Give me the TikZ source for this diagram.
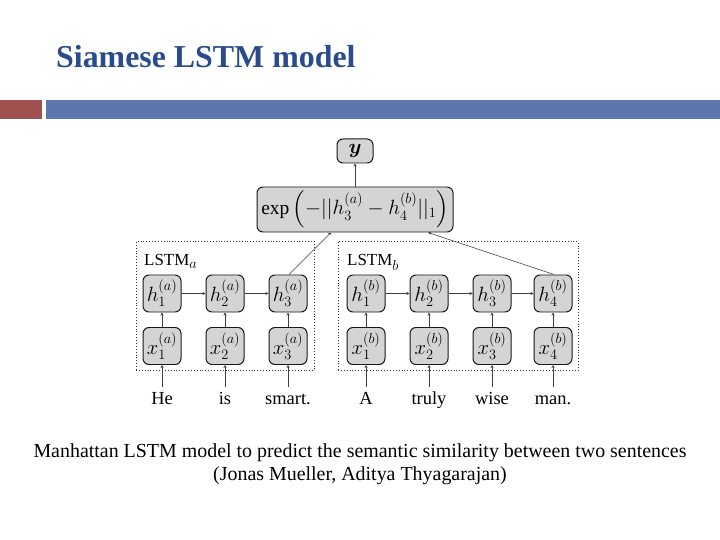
\documentclass[tikz,border=0pt]{standalone}
\usepackage{amsmath}
\usepackage{fontspec}
\setmainfont{Liberation Serif}
\usetikzlibrary{arrows.meta}
\DeclareMathSizes{20}{20}{15.5}{12}
\DeclareMathSizes{19.5}{19.5}{15}{11}
\DeclareMathSizes{17}{17}{14}{10}
\definecolor{titleblue}{HTML}{2B4C8C}
\definecolor{barred}{HTML}{A0504F}
\definecolor{barblue}{HTML}{5E76AE}
\definecolor{boxgray}{HTML}{D4D4D4}
\begin{document}
\begin{tikzpicture}[x=1bp,y=-1bp,
  cell/.style={draw=black!90,fill=boxgray,rounded corners=6bp,minimum width=38bp,minimum height=37bp,inner sep=0pt,line width=1pt,font=\fontsize{20}{20}\selectfont},
  conn/.style={-{Stealth[length=3bp,width=3bp]},draw=black!75,line width=0.5pt},
  group/.style={draw=black!80,dotted,line width=0.9pt},
  word/.style={font=\fontsize{18.5}{18.5}\selectfont,anchor=base},
  grp/.style={font=\fontsize{17}{17}\selectfont,anchor=base west}]
\useasboundingbox (0,0) rectangle (720,540);
\fill[white] (0,0) rectangle (720,540);
\node[anchor=base west,text=titleblue,font=\fontsize{32}{32}\selectfont\bfseries,inner sep=0pt] (title) at (56,68) {Siamese LSTM model};
\fill[barred] (0,100) rectangle (42,119);
\fill[barblue] (46,100) rectangle (720,119);
% groups
\node[group,minimum width=178bp,minimum height=129bp,inner sep=0pt] (ga) at (225,306) {};
\node[group,minimum width=240bp,minimum height=129bp,inner sep=0pt] (gb) at (458,306) {};
\node[grp,inner sep=0pt] (la) at (144,266) {LSTM$_a$};
\node[grp,inner sep=0pt] (lb) at (347,266) {LSTM$_b$};
% top nodes
\node[cell,minimum width=36bp,minimum height=24bp] (y) at (355,151) {$\boldsymbol{y}$};
\node[cell,minimum width=196bp,minimum height=45bp,font=\fontsize{19.5}{19.5}\selectfont] (e) at (355,209.5) {$\exp\left(-||h_3^{(a)}-h_4^{(b)}||_1\right)$};
% a
\foreach \i/\xx in {1/162,2/225,3/288}{
  \node[cell] (ha\i) at (\xx,293.5) {$h_{\i}^{(a)}$};
  \node[cell] (xa\i) at (\xx,346) {$x_{\i}^{(a)}$};
  \draw[conn] (xa\i) -- (ha\i);
}
\foreach \i/\xx in {1/366,2/429,3/492,4/553}{
  \node[cell] (hb\i) at (\xx,293.5) {$h_{\i}^{(b)}$};
  \node[cell] (xb\i) at (\xx,346) {$x_{\i}^{(b)}$};
  \draw[conn] (xb\i) -- (hb\i);
}
\draw[conn] (ha1) -- (ha2); \draw[conn] (ha2) -- (ha3);
\draw[conn] (hb1) -- (hb2); \draw[conn] (hb2) -- (hb3); \draw[conn] (hb3) -- (hb4);
\draw[conn] (e) -- (y);
\coordinate (s1) at ([xshift=1bp]ha3.north);
\coordinate (t1) at (331,232.5);
\coordinate (t2) at (428,232.5);
\draw[conn] (s1) -- (t1);
\draw[conn] ([xshift=1bp]hb4.north) -- (t2);
% words
\foreach \n/\w/\xx in {wa1/He/162,wa2/is/225,wa3/smart./288,wb1/A/366,wb2/truly/429,wb3/wise/492,wb4/man./553}{
  \node[word,inner sep=0pt] (\n) at (\xx,404) {\w};
}
\foreach \n/\t in {wa1/xa1,wa2/xa2,wa3/xa3,wb1/xb1,wb2/xb2,wb3/xb3,wb4/xb4}{
  \draw[conn] (\n.north |- 0,387) -- (\t);
}
\node[font=\fontsize{20}{23}\selectfont,align=center,inner sep=0pt] (cap) at (360,464) {Manhattan LSTM model to predict the semantic similarity between two sentences\\(Jonas Mueller, Aditya Thyagarajan)};
\end{tikzpicture}
\end{document}
